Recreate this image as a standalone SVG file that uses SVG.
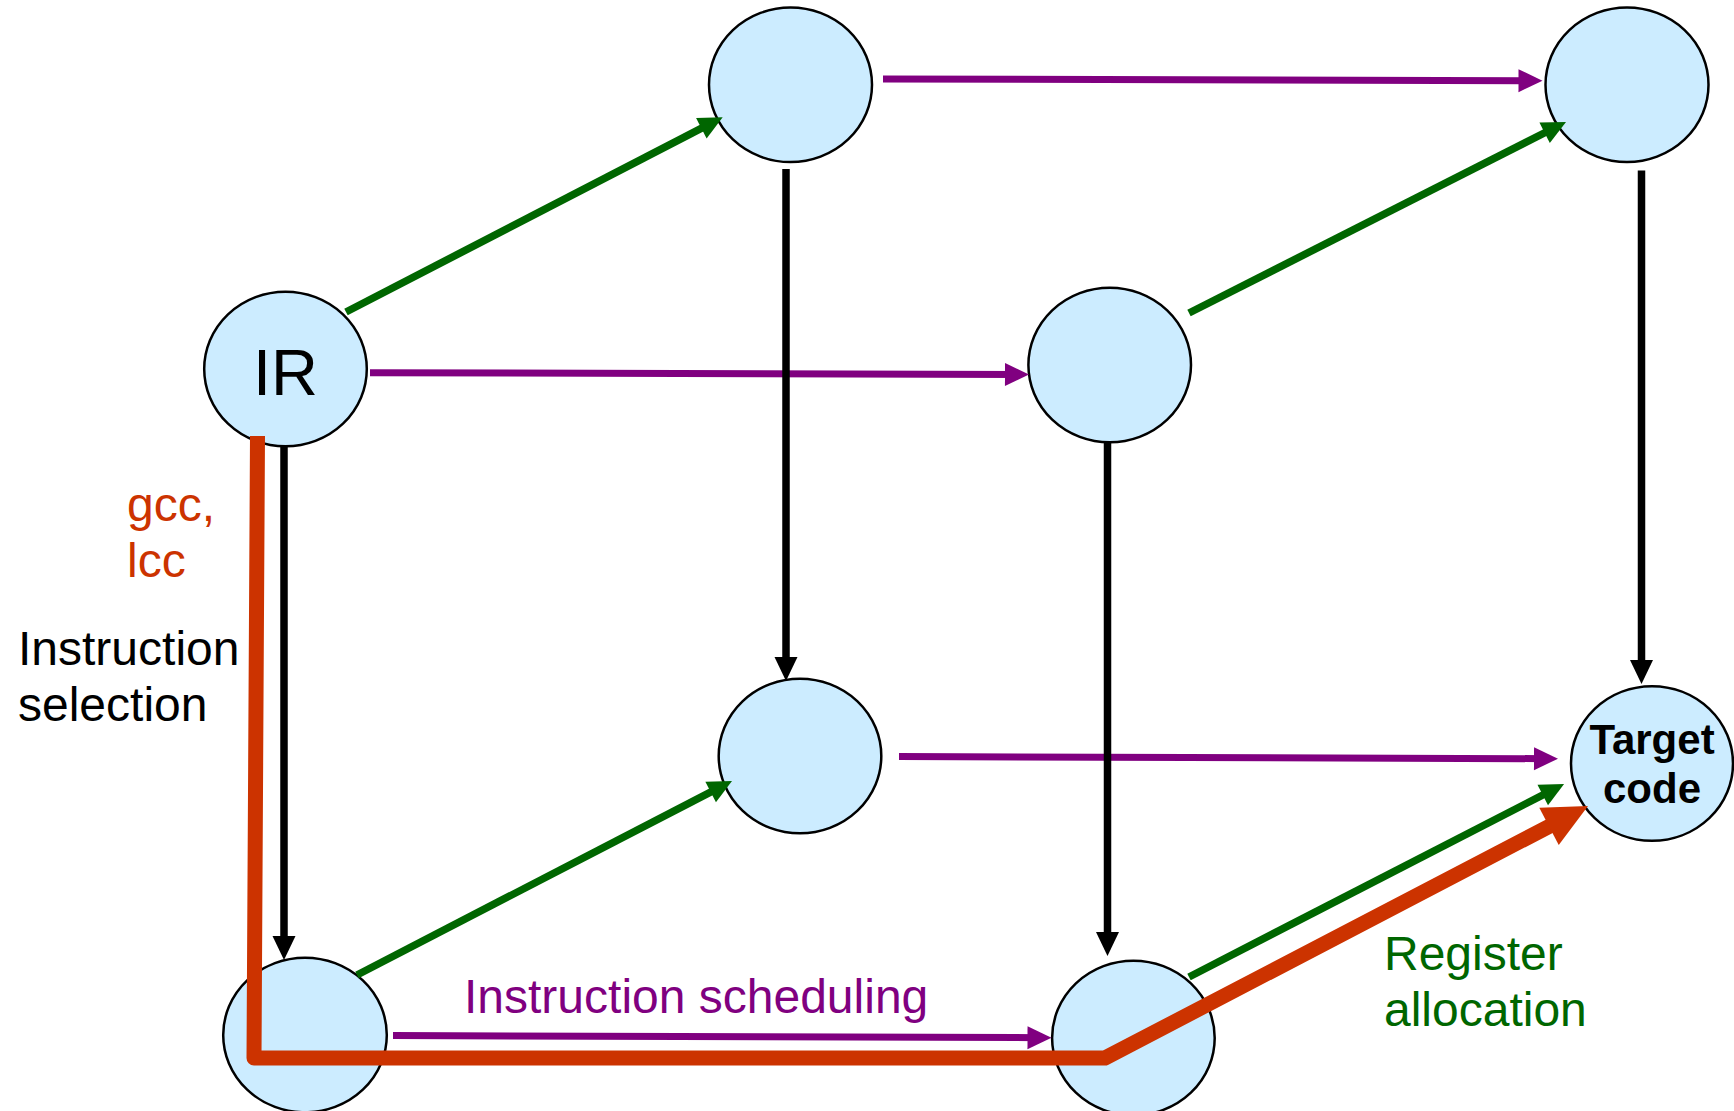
<svg xmlns="http://www.w3.org/2000/svg" width="1734" height="1111" viewBox="0 0 1734 1111">
<style>
.node{fill:#CCECFF;stroke:#000;stroke-width:2.5}
.blk{stroke:#000;stroke-width:7.5;fill:none}
.pur{stroke:#800080;stroke-width:7;fill:none}
.grn{stroke:#006600;stroke-width:7.5;fill:none}
.red{stroke:#CC3300;stroke-width:15;fill:none;stroke-linejoin:round}
text{font-family:"Liberation Sans",Arial,sans-serif}
.lbl{font-size:48px}
</style>
<defs>
<marker id="ab" markerUnits="userSpaceOnUse" markerWidth="24" markerHeight="23" refX="14" refY="11.5" orient="auto" overflow="visible"><path d="M0,0 L24,11.5 L0,23 z" fill="#000"/></marker>
<marker id="ap" markerUnits="userSpaceOnUse" markerWidth="24" markerHeight="23" refX="14" refY="11.5" orient="auto" overflow="visible"><path d="M0,0 L24,11.5 L0,23 z" fill="#800080"/></marker>
<marker id="ag" markerUnits="userSpaceOnUse" markerWidth="24" markerHeight="23" refX="14" refY="11.5" orient="auto" overflow="visible"><path d="M0,0 L24,11.5 L0,23 z" fill="#006600"/></marker>
<marker id="ar" markerUnits="userSpaceOnUse" markerWidth="44" markerHeight="42" refX="24" refY="21" orient="auto" overflow="visible"><path d="M0,0 L44,21 L0,42 z" fill="#CC3300"/></marker>
</defs>
<rect width="1734" height="1111" fill="#fff"/>

<g id="node-top-mid"><ellipse class="node" cx="790.5" cy="84.8" rx="81.5" ry="77.3"/></g>
<g id="node-top-right"><ellipse class="node" cx="1627" cy="84.8" rx="81.5" ry="77.3"/></g>
<g id="node-ir"><ellipse class="node" cx="285.5" cy="369" rx="81.3" ry="77.3"/><text x="285.5" y="394.5" font-size="65" text-anchor="middle" fill="#000">IR</text></g>
<g id="node-mid-right"><ellipse class="node" cx="1109.7" cy="365" rx="81.3" ry="77.3"/></g>
<g id="node-middle"><ellipse class="node" cx="800" cy="756" rx="81.3" ry="77.3"/></g>
<g id="node-target"><ellipse class="node" cx="1652" cy="763.5" rx="81" ry="77.3"/><text x="1652" y="754" font-size="42" font-weight="bold" text-anchor="middle" fill="#000">Target</text><text x="1652" y="803" font-size="42" font-weight="bold" text-anchor="middle" fill="#000">code</text></g>
<g id="node-bottom-left"><ellipse class="node" cx="305" cy="1035" rx="81.8" ry="77.3"/></g>
<g id="node-bottom-right"><ellipse class="node" cx="1133.4" cy="1038" rx="81.3" ry="77.3"/></g>

<g id="connectors">
<line class="pur" x1="883" y1="79" x2="1532.5" y2="80.7" marker-end="url(#ap)"/>
<line class="pur" x1="370" y1="372.7" x2="1019" y2="374.5" marker-end="url(#ap)"/>
<line class="pur" x1="899" y1="756.5" x2="1548" y2="758.7" marker-end="url(#ap)"/>
<line class="pur" x1="393" y1="1035.5" x2="1041.5" y2="1037.7" marker-end="url(#ap)"/>
<line class="grn" x1="346" y1="312" x2="713.8" y2="121.9" marker-end="url(#ag)"/>
<line class="grn" x1="1189" y1="313" x2="1557.1" y2="126.5" marker-end="url(#ag)"/>
<line class="grn" x1="357" y1="975" x2="723.1" y2="785.6" marker-end="url(#ag)"/>
<line class="grn" x1="1189" y1="977" x2="1555.2" y2="788.6" marker-end="url(#ag)"/>
<line class="blk" x1="786" y1="169" x2="786" y2="671" marker-end="url(#ab)"/>
<line class="blk" x1="284" y1="446.5" x2="284" y2="950" marker-end="url(#ab)"/>
<line class="blk" x1="1107.5" y1="442" x2="1107.5" y2="946" marker-end="url(#ab)"/>
<line class="blk" x1="1641.5" y1="170.5" x2="1641.5" y2="674" marker-end="url(#ab)"/>
<polyline class="red" points="257.5,436 254,1058 1105,1058 1570.3,815.3" marker-end="url(#ar)"/>
</g>

<g id="labels">
<text class="lbl" x="127" y="521" fill="#CC3300">gcc,</text>
<text class="lbl" x="127" y="577" fill="#CC3300">lcc</text>
<text class="lbl" x="18" y="665" fill="#000">Instruction</text>
<text class="lbl" x="18" y="721" fill="#000">selection</text>
<text class="lbl" x="464" y="1013" fill="#800080">Instruction scheduling</text>
<text class="lbl" x="1384" y="970" fill="#006600">Register</text>
<text class="lbl" x="1384" y="1026" fill="#006600">allocation</text>
</g>
</svg>
